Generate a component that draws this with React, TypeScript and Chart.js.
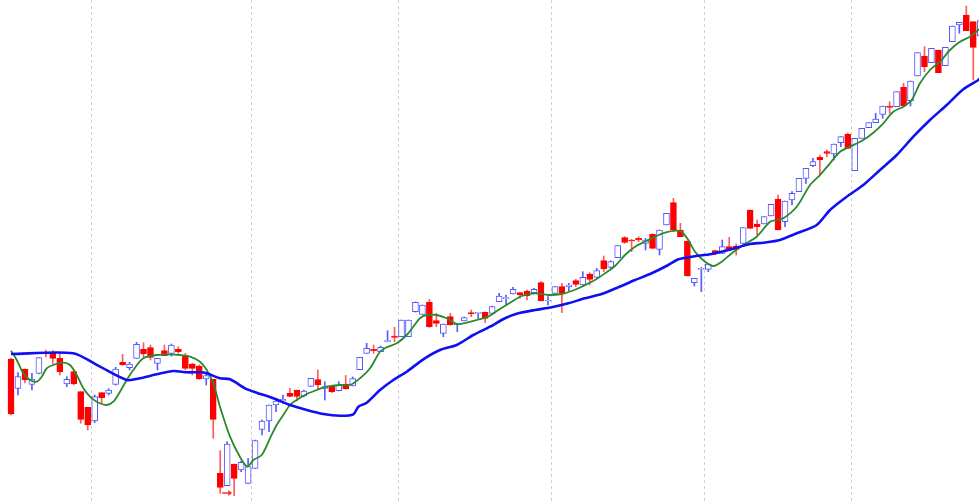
import React, { useEffect, useRef } from "react";
import { Chart, registerables } from "chart.js";

Chart.register(...registerables);

// Daily candles (price units), oldest first
const opens = [
  24.1, 21.17, 23.1, 21.57, 22.67, 24.75, 24.67, 24.17, 21.6, 22.83,
  20.83, 19.27, 17.9, 20.73, 20.67, 21.57, 23.77, 23.23, 24.17, 25.07,
  25.23, 23.67, 24.93, 24.67, 25.07, 24.5, 23.6, 23.4, 22.1, 22.07,
  12.67, 11.43, 13.6, 13.0, 11.67, 13.17, 17.07, 17.9, 19.5, 19.9,
  20.67, 21.0, 20.4, 21.37, 22.03, 21.17, 21.37, 20.93, 21.58, 21.4,
  23.03, 24.67, 25.07, 24.83, 25.83, 26.4, 26.33, 26.33, 28.83, 28.57,
  29.77, 27.93, 26.67, 28.33, 27.5, 27.9, 28.73, 28.67, 28.77, 28.67,
  29.83, 30.13, 30.6, 30.73, 30.9, 30.73, 31.73, 29.9, 30.67, 31.33,
  31.33, 31.93, 31.5, 32.6, 32.27, 33.93, 33.27, 34.23, 36.23, 36.0,
  36.17, 35.67, 36.6, 35.07, 37.5, 39.73, 37.0, 35.9, 31.73, 33.07,
  33.07, 34.93, 34.67, 35.33, 35.4, 35.67, 39.0, 37.6, 37.6, 38.4,
  40.1, 37.83, 40.0, 40.83, 42.17, 43.43, 44.27, 44.83, 44.6, 45.73,
  46.57, 42.93, 46.17, 47.23, 47.73, 48.57, 49.4, 49.33, 51.27, 49.93,
  52.4, 54.4, 53.73, 55.0, 53.43, 55.83, 57.5, 58.5, 57.83, 56.4,
];
const closes = [
  18.6, 22.33, 22.0, 22.1, 24.23, 24.6, 24.17, 22.83, 22.07, 21.6,
  18.07, 17.5, 20.33, 20.23, 21.0, 23.1, 23.5, 23.6, 25.57, 24.6,
  24.27, 24.17, 24.43, 25.5, 24.83, 23.17, 23.17, 22.1, 22.43, 18.07,
  11.27, 15.6, 12.17, 13.77, 13.33, 15.93, 17.9, 19.5, 19.9, 20.07,
  20.37, 20.35, 20.88, 22.17, 21.5, 21.33, 20.83, 21.47, 21.12, 22.13,
  24.27, 25.17, 24.93, 25.27, 25.93, 26.27, 28.0, 28.0, 29.77, 29.5,
  27.33, 27.67, 27.6, 27.5, 27.6, 28.23, 28.6, 28.73, 28.17, 29.33,
  30.4, 30.23, 31.07, 30.5, 30.4, 31.07, 29.9, 30.0, 31.33, 30.67,
  31.5, 31.57, 32.27, 32.07, 32.93, 33.1, 33.83, 35.43, 35.77, 35.9,
  36.0, 36.0, 35.17, 37.0, 38.67, 37.0, 36.33, 32.4, 32.17, 33.13,
  33.6, 34.6, 35.33, 35.07, 35.07, 37.23, 37.17, 37.33, 38.33, 39.57,
  37.0, 39.9, 40.67, 42.17, 43.17, 43.83, 44.0, 44.67, 45.6, 46.33,
  45.17, 46.17, 47.17, 47.73, 48.1, 49.4, 49.27, 50.83, 49.4, 51.9,
  54.73, 53.33, 55.17, 52.73, 55.27, 57.4, 57.77, 56.93, 55.27, 57.93,
];
const highs = [
  24.2, 22.73, 23.1, 22.67, 24.23, 25.0, 24.93, 24.73, 22.33, 23.0,
  20.83, 19.27, 20.5, 20.73, 21.13, 23.27, 24.57, 23.77, 25.77, 25.73,
  25.5, 24.17, 25.5, 25.6, 25.33, 24.67, 23.67, 23.5, 22.67, 22.07,
  14.93, 15.83, 13.6, 13.9, 14.17, 16.0, 18.0, 19.5, 20.07, 20.5,
  21.17, 21.0, 21.0, 22.17, 23.0, 21.83, 21.47, 21.83, 22.45, 22.3,
  24.27, 25.67, 25.5, 25.4, 26.93, 27.27, 28.0, 28.0, 29.8, 29.5,
  30.07, 28.67, 27.6, 28.67, 27.6, 28.3, 29.0, 28.73, 28.8, 29.4,
  30.67, 30.5, 31.27, 30.73, 31.0, 31.17, 31.83, 30.33, 31.33, 31.67,
  31.67, 32.07, 32.83, 32.73, 33.17, 34.4, 33.93, 35.43, 36.33, 36.07,
  36.33, 36.17, 36.6, 37.0, 38.67, 40.17, 37.67, 35.9, 32.17, 33.27,
  33.67, 35.0, 36.0, 36.27, 35.6, 37.23, 39.0, 38.0, 38.33, 39.57,
  40.5, 39.9, 40.83, 42.17, 43.17, 44.17, 44.5, 45.0, 45.6, 46.33,
  46.7, 46.17, 47.17, 47.73, 48.67, 49.4, 49.83, 50.83, 51.67, 51.9,
  54.73, 55.33, 55.17, 55.0, 55.27, 57.4, 57.77, 59.4, 57.83, 57.93,
];
const lows = [
  18.5, 20.5, 21.7, 21.0, 22.6, 24.3, 23.6, 22.5, 21.33, 21.5,
  17.67, 17.0, 17.74, 19.73, 20.5, 21.5, 23.5, 23.0, 24.17, 24.33,
  24.0, 23.0, 24.43, 24.4, 24.67, 23.0, 22.5, 22.07, 21.5, 16.17,
  10.67, 11.43, 10.43, 12.83, 11.67, 13.17, 16.5, 16.83, 18.83, 19.67,
  20.3, 19.9, 20.3, 21.37, 21.17, 20.0, 20.73, 20.9, 21.1, 21.4,
  23.03, 24.67, 24.67, 24.83, 25.8, 25.83, 26.33, 26.33, 28.8, 28.57,
  27.27, 27.33, 26.33, 27.5, 26.83, 27.9, 28.33, 28.17, 27.73, 28.67,
  29.83, 29.5, 30.6, 30.17, 30.0, 30.7, 29.9, 29.5, 30.67, 28.73,
  30.93, 31.33, 31.33, 31.5, 32.17, 32.83, 33.17, 34.23, 35.67, 34.83,
  35.83, 35.0, 35.17, 34.5, 37.5, 36.83, 36.33, 32.4, 31.4, 30.83,
  32.83, 34.53, 34.67, 35.0, 34.5, 35.67, 37.17, 36.5, 37.6, 38.4,
  37.0, 37.33, 39.5, 40.83, 41.67, 43.33, 42.4, 44.33, 44.0, 45.33,
  45.17, 42.93, 46.17, 47.23, 47.73, 48.17, 48.67, 49.33, 49.4, 49.4,
  52.4, 52.83, 53.73, 52.73, 53.43, 55.83, 56.67, 56.93, 52.0, 56.4,
];

// Short moving average (green), sampled at candle positions
const greenAt = [
  0, 0.82, 1.76, 2.72, 3.69, 4.4, 5.12, 6.07, 7.5, 8.46, 9.42, 10.37, 11.33, 12.29, 13.72,
  14.67, 15.63, 16.59, 17.54, 18.97, 20.9, 22.8, 24.24, 25.67, 27.1, 28.07, 29.01, 29.97,
  31.41, 32.84, 33.89, 34.75, 35.95, 37.14, 38.1, 39.05, 40.01, 40.97, 42.41, 43.84, 45.27,
  47.18, 48.62, 50.05, 51.49, 52.92, 53.88, 55.31, 56.75, 57.69, 58.65, 59.61, 61.05, 62.48,
  63.92, 65.35, 66.79, 68.4, 69.88, 71.81, 73.24, 75.15, 77.06, 78.98, 80.41, 81.84, 83.75,
  85.19, 86.62, 88.05, 89.49, 90.92, 92.36, 93.79, 95.22, 96.18, 97.13, 98.09, 99.53, 100.72,
  101.92, 103.36, 105.02, 106.94, 108.85, 109.81, 110.76, 112.68, 114.59, 116.02, 117.45,
  118.89, 120.32, 122.23, 123.66, 125.1, 126.53, 127.97, 129.17, 130.36, 131.79, 133.23,
  134.66, 136.09, 137.53, 138.72, 139.3,
];
const greenMA = [
  24.93, 24.0, 22.67, 22.0, 21.83, 22.33, 23.17, 23.5, 23.73, 23.5, 22.5, 21.17, 20.33, 19.83, 19.5,
  19.83, 20.83, 22.0, 23.0, 24.17, 24.5, 24.57, 24.5, 24.33, 23.83, 23.0, 21.67, 19.33,
  16.33, 14.3, 13.33, 14.0, 14.5, 16.17, 17.5, 18.5, 19.5, 20.0, 20.6, 21.0, 21.33,
  21.5, 21.5, 22.17, 23.17, 24.83, 25.27, 25.67, 26.5, 27.33, 28.17, 28.5, 28.5, 28.17,
  27.6, 27.73, 28.0, 28.33, 29.0, 29.83, 30.4, 30.67, 30.5, 30.6, 30.9, 31.33, 32.0,
  32.67, 33.4, 34.5, 35.33, 35.83, 36.33, 36.73, 36.93, 36.83, 36.0, 34.83, 33.83, 33.4,
  33.83, 34.67, 35.5, 36.33, 37.83, 38.0, 38.17, 39.33, 41.5, 42.5, 43.67,
  44.83, 45.33, 46.0, 46.73, 47.67, 48.83, 49.33, 50.0, 51.67, 53.0, 53.83,
  55.0, 55.83, 56.33, 57.0, 57.3,
];

// Long moving average (blue)
const blueAt = [
  0, 8.9, 12.76, 16.59, 18.5, 20.9, 23.28, 25.2, 27.1, 28.07, 29.97, 31.41, 33.56, 35.24, 37.62,
  40.01, 42.41, 44.79, 47.18, 49.09, 49.81, 51.01, 52.92, 54.83, 56.75, 59.13, 61.52, 63.92,
  66.3, 68.69, 70.85, 72.75, 75.15, 77.54, 79.92, 82.32, 84.71, 87.09, 89.49, 91.88, 94.26,
  95.7, 97.62, 100.49, 102.87, 105.98, 107.89, 110.28, 112.68, 115.55, 117.45, 119.85,
  122.23, 124.62, 127.02, 129.4, 131.79, 134.19, 136.57, 138.72, 139.3,
];
const blueMA = [
  24.6, 24.67, 23.33, 22.0, 22.17, 22.57, 22.9, 22.77, 22.77, 22.67, 22.17, 22.07, 21.17, 20.73, 20.17,
  19.5, 19.0, 18.6, 18.43, 18.57, 19.33, 19.73, 21.0, 22.0, 22.83, 24.07, 25.0, 25.5,
  26.5, 27.33, 28.17, 28.67, 29.0, 29.27, 29.67, 30.17, 30.6, 31.27, 32.0, 32.67, 33.5,
  34.07, 34.33, 34.6, 35.0, 35.6, 35.73, 36.0, 36.67, 37.5, 39.0, 40.33,
  41.5, 43.0, 44.5, 46.33, 48.0, 49.5, 51.07, 52.0, 52.4,
];

// First candle index of each new month (dashed separators)
const monthStarts = [12, 35, 56, 78, 100, 121];

// Small arrow marker under one candle
const markerIndex = 31;
const markerValue = 10.7;

const X_MIN = -1.58;
const X_MAX = 138.82;
const Y_MIN = 9.7;
const Y_MAX = 60;

const arrowPlugin = {
  id: "arrowMarker",
  afterDatasetsDraw(chart: any) {
    const { ctx, scales } = chart;
    const px = scales.x.getPixelForValue(markerIndex);
    const py = scales.y.getPixelForValue(markerValue);
    ctx.save();
    ctx.strokeStyle = "#ff3030";
    ctx.fillStyle = "#ff3030";
    ctx.lineWidth = 1.5;
    ctx.beginPath();
    ctx.moveTo(px - 5, py);
    ctx.lineTo(px + 3, py);
    ctx.stroke();
    ctx.beginPath();
    ctx.moveTo(px + 5, py);
    ctx.lineTo(px + 1, py - 3);
    ctx.lineTo(px + 1, py + 3);
    ctx.closePath();
    ctx.fill();
    ctx.restore();
  },
};

export default function App() {
  const canvasRef = useRef<HTMLCanvasElement | null>(null);

  useEffect(() => {
    document.body.style.margin = "0";
    document.body.style.overflow = "hidden";
    const canvas = canvasRef.current;
    if (!canvas) return;

    const idx = opens.map((_, i) => i);
    const up = idx.map((i) => closes[i] >= opens[i]);

    const chart = new Chart(canvas, {
      type: "bar",
      data: {
        datasets: [
          {
            type: "line",
            label: "MA long",
            data: blueAt.map((x, i) => ({ x, y: blueMA[i] })),
            borderColor: "#0f0ff2",
            borderWidth: 2.6,
            pointRadius: 0,
            tension: 0.25,
            order: 0,
          } as any,
          {
            type: "line",
            label: "MA short",
            data: greenAt.map((x, i) => ({ x, y: greenMA[i] })),
            borderColor: "#2a8a2a",
            borderWidth: 1.8,
            pointRadius: 0,
            tension: 0.3,
            order: 1,
          } as any,
          {
            type: "bar",
            label: "body",
            data: idx.map((i) => ({ x: i, y: [opens[i], closes[i]] })),
            backgroundColor: up.map((u) => (u ? "#ffffff" : "#ff0000")),
            borderColor: up.map((u) => (u ? "#5555ff" : "#ff0000")),
            borderWidth: 1,
            borderSkipped: false,
            barThickness: 6,
            minBarLength: 1,
            grouped: false,
            order: 2,
          } as any,
          {
            type: "bar",
            label: "wick",
            data: idx.map((i) => ({ x: i, y: [lows[i], highs[i]] })),
            backgroundColor: up.map((u) => (u ? "#5a5aff" : "#ff5a5a")),
            borderWidth: 0,
            barThickness: 1,
            grouped: false,
            order: 3,
          } as any,
        ],
      },
      options: {
        responsive: false,
        animation: false,
        layout: { padding: 0 },
        plugins: {
          legend: { display: false },
          tooltip: { enabled: false },
        },
        scales: {
          x: {
            type: "linear",
            min: X_MIN,
            max: X_MAX,
            offset: false,
            afterBuildTicks: (axis: any) => {
              axis.ticks = monthStarts.map((m) => ({ value: m - 0.5 }));
            },
            ticks: { display: false },
            grid: { color: "#cfcfcf", drawTicks: false, tickLength: 0, offset: false, lineWidth: 1 },
            border: { display: false, dash: [3, 3] },
          },
          y: {
            display: false,
            min: Y_MIN,
            max: Y_MAX,
          },
        },
      } as any,
      plugins: [arrowPlugin],
    });

    return () => chart.destroy();
  }, []);

  return (
    <div style={{ width: 979, height: 503, background: "#ffffff" }}>
      <canvas ref={canvasRef} width={979} height={503} style={{ display: "block" }} />
    </div>
  );
}
